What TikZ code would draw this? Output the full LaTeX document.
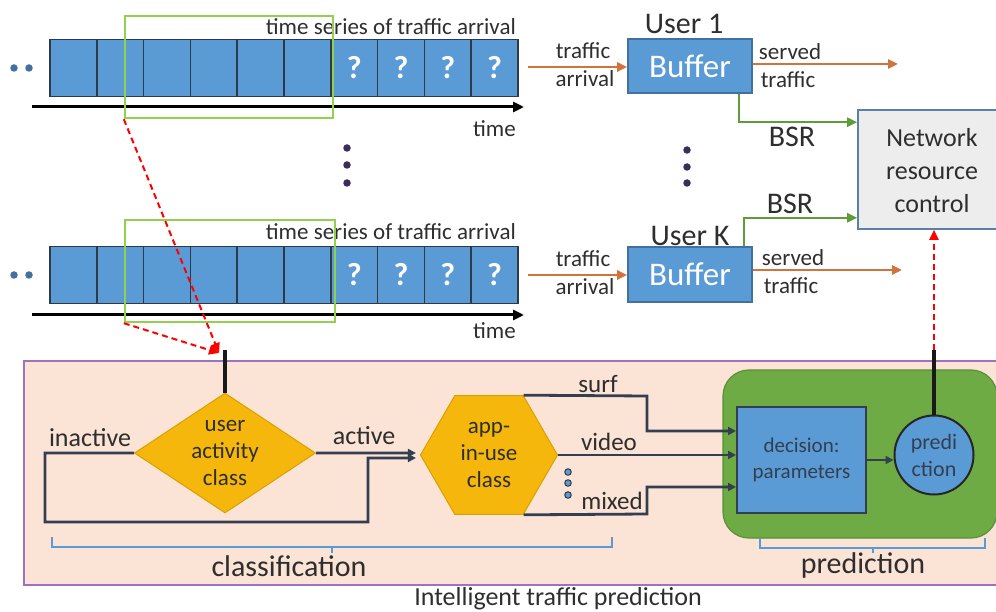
\documentclass[tikz,border=0pt]{standalone}
\usepackage{fontspec}
\setmainfont{Carlito}
\usetikzlibrary{arrows.meta,shapes.geometric,calc}
\definecolor{cellblue}{HTML}{5B9BD5}
\definecolor{celledge}{HTML}{2E3A48}
\definecolor{bufedge}{HTML}{41719C}
\definecolor{wingreen}{HTML}{92D050}
\definecolor{orng}{HTML}{D0743C}
\definecolor{bsrgreen}{HTML}{5E9C3A}
\definecolor{netfill}{HTML}{EDEDED}
\definecolor{netedge}{HTML}{5A7FA8}
\definecolor{peach}{HTML}{FBE3D6}
\definecolor{purp}{HTML}{9F72C0}
\definecolor{gold}{HTML}{F5B70B}
\definecolor{goldedge}{HTML}{D9A000}
\definecolor{slate}{HTML}{333F50}
\definecolor{pgreen}{HTML}{6EAB45}
\definecolor{pgreenedge}{HTML}{5B8F3A}
\definecolor{txt}{HTML}{2E2E2E}
\definecolor{dotpurple}{HTML}{3B2D5A}
\begin{document}
\begin{tikzpicture}[x=1pt,y=-1pt,
  cell/.style={draw=celledge,line width=1.6pt,fill=cellblue,minimum width=46.8pt,minimum height=57pt,inner sep=0pt,text=white,font=\fontsize{32}{36}\selectfont\bfseries},
  win/.style={draw=wingreen,line width=2.4pt,minimum width=208pt,minimum height=102pt,inner sep=0pt},
  lbl/.style={text=txt,inner sep=0pt,font=\fontsize{23}{27}\selectfont},
  biglbl/.style={text=txt,inner sep=0pt,font=\fontsize{30}{34}\selectfont},
  timeline/.style={line width=3pt,-{Triangle[length=11pt,width=10pt]}},
  bufbox/.style={draw=bufedge,line width=1.6pt,fill=cellblue,minimum width=124pt,minimum height=54pt,inner sep=0pt,text=white,font=\fontsize{33}{36}\selectfont},
  oarrow/.style={draw=orng,line width=2.5pt,-{Triangle[length=10pt,width=9pt]}},
  garrow/.style={draw=bsrgreen,line width=2.4pt,-{Triangle[length=10pt,width=9pt]}},
  rdash/.style={draw=red,line width=2pt,dash pattern=on 6pt off 4pt,-{Triangle[length=10pt,width=9pt]}},
  flow/.style={draw=slate,line width=2.8pt,-{Triangle[length=8pt,width=8pt]}},
  brace/.style={draw=cellblue,line width=1.4pt},
  ddot/.style={circle,fill=dotpurple,inner sep=0pt,minimum size=7.5pt},
  bdot/.style={circle,fill=bufedge,inner sep=0pt,minimum size=7.5pt},
  sdot/.style={circle,draw=celledge,line width=1pt,fill=cellblue,inner sep=0pt,minimum size=6.5pt},
]
\useasboundingbox (0,0) rectangle (996,612);

% ---------- top time series ----------
\foreach \i in {1,...,6} \node[cell] (a\i) at ({50+(\i-0.5)*46.8},68) {};
\foreach \i in {7,...,10} \node[cell] (a\i) at ({50+(\i-0.5)*46.8},68) {?};
\coordinate (t1s) at (32,107); \coordinate (t1e) at (524,107);
\draw[timeline] (t1s) -- (t1e);
\node[lbl,anchor=east] (ts1) at (516,27) {time series of traffic arrival};
\node[lbl,anchor=east] (tm1) at (516,129) {time};
\node[win] (win1) at (229,67) {};
\node[bdot] (d1a) at (14,68) {}; \node[bdot] (d1b) at (29,68) {};

% ---------- bottom time series ----------
\foreach \i in {1,...,6} \node[cell] (b\i) at ({50+(\i-0.5)*46.8},275) {};
\foreach \i in {7,...,10} \node[cell] (b\i) at ({50+(\i-0.5)*46.8},275) {?};
\coordinate (t2s) at (32,315); \coordinate (t2e) at (524,315);
\draw[timeline] (t2s) -- (t2e);
\node[lbl,anchor=east] (ts2) at (516,232) {time series of traffic arrival};
\node[lbl,anchor=east] (tm2) at (516,331) {time};
\node[win,minimum width=210pt] (win2) at (230,271) {};
\node[bdot] (d2a) at (14,275) {}; \node[bdot] (d2b) at (29,275) {};

% vertical dots
\node[ddot] (v1) at (347,148) {}; \node[ddot] (v2) at (347,165) {}; \node[ddot] (v3) at (347,183) {};
\node[ddot] (w1) at (687,150) {}; \node[ddot] (w2) at (687,167) {}; \node[ddot] (w3) at (687,183) {};

% ---------- buffers ----------
\node[bufbox] (buf1) at (690,66) {Buffer};
\node[bufbox,minimum height=55pt] (bufK) at (690,274.5) {Buffer};
\node[lbl,font=\fontsize{30}{34}\selectfont] (u1) at (684,24) {User 1};
\node[lbl,font=\fontsize{30}{34}\selectfont] (uK) at (690,236) {User K};

\coordinate (oa1) at (528,67);
\draw[oarrow] (oa1) -- (buf1.west |- oa1);
\node[lbl] (ta1) at (583,51) {traffic};
\node[lbl] (ar1) at (585,79) {arrival};
\coordinate (oaK) at (528,275);
\draw[oarrow] (oaK) -- (bufK.west |- oaK);
\node[lbl] (taK) at (583,259) {traffic};
\node[lbl] (arK) at (585,287) {arrival};

\coordinate (so1) at (898,64);
\draw[oarrow] (buf1.east |- so1) -- (so1);
\node[lbl] (se1) at (790,52) {served};
\node[lbl] (st1) at (788,80) {traffic};
\coordinate (soK) at (902,270);
\draw[oarrow] (bufK.east |- soK) -- (soK);
\node[lbl] (seK) at (793,258) {served};
\node[lbl] (stK) at (791,286) {traffic};

% ---------- network resource control ----------
\node[draw=netedge,line width=1.6pt,fill=netfill,minimum width=142pt,minimum height=119pt,inner sep=0pt] (net) at (929,169.5) {};
\node[text=txt,align=center,font=\fontsize{26}{33}\selectfont] (nettxt) at (932,171) {Network\\resource\\control};

\draw[garrow] ($(buf1.south east)+(-14,0)$) |- ($(net.north west)+(0,13)$);
\draw[garrow] ($(bufK.north east)+(-9,0)$) |- ($(net.south west)+(0,-12)$);
\node[lbl,font=\fontsize{30}{34}\selectfont] (bsr1) at (792,137) {BSR};
\node[lbl,font=\fontsize{30}{34}\selectfont] (bsr2) at (790,204) {BSR};

% ---------- intelligent traffic prediction area ----------
\node[draw=purp,line width=1.6pt,fill=peach,minimum width=980pt,minimum height=224pt,inner sep=0pt,anchor=north west] (itp) at (23,360) {};
\node[text=txt,inner sep=0pt,font=\fontsize{26}{30}\selectfont] (itpl) at (558,599) {Intelligent traffic prediction};

\node[draw=pgreenedge,line width=1.2pt,fill=pgreen,rounded corners=26pt,minimum width=274pt,minimum height=168pt,inner sep=0pt] (pbox) at (860,454) {};

% diamond
\node[diamond,draw=goldedge,line width=1pt,fill=gold,minimum width=181pt,minimum height=120pt,inner sep=0pt,aspect=1.5,
  text=txt,align=center,font=\fontsize{23}{27}\selectfont] (uac) at (225,453) {user\\activity\\class};
% hexagon
\node[regular polygon,regular polygon sides=6,draw=goldedge,line width=1pt,fill=gold,minimum size=137pt,inner sep=0pt,
  text=txt,align=center,font=\fontsize{23}{27}\selectfont] (hex) at (489,455) {app-\\in-use\\class};

% decision & prediction
\node[draw=slate,line width=2pt,fill=cellblue,minimum width=129pt,minimum height=106pt,inner sep=0pt,
  text=slate,align=center,font=\fontsize{21}{26}\selectfont] (dec) at (801.5,460) {decision:\\parameters};
\node[circle,draw=black!85,line width=2pt,fill=cellblue,minimum size=79pt,inner sep=0pt,
  text=slate,align=center,font=\fontsize{22}{27}\selectfont] (pc) at (934,455) {predi\\ction};
\draw[flow] (dec.east) -- (dec.east -| pc.west);

% black feed lines
\coordinate (top1) at (225,350);
\draw[line width=4.5pt,black!90] (uac.north) -- (top1);
\coordinate (top2) at (934,350);
\draw[line width=4.5pt,black!90] (pc.north) -- (top2);

% red dashed arrows
\coordinate (redend) at (219,353);
\draw[rdash] (win1.south west) -- (redend);
\draw[rdash] (win2.south west) -- (redend);
\draw[rdash] (top2) -- (top2 |- net.south);

% flow: active / inactive
\draw[flow] (uac.east) -- ($(hex.west)+(-4,-2)$);
\node[text=txt,inner sep=0pt,font=\fontsize{26}{30}\selectfont] (actl) at (364,436) {active};
\coordinate (l1) at (45,522); \coordinate (l2) at (368,522); \coordinate (l3) at (368,458);
\draw[flow] (uac.west) -| (l1) -- (l2) -- (l3) -- ($(hex.west)+(-4,3)$);
\node[text=txt,inner sep=0pt,font=\fontsize{26}{30}\selectfont] (inactl) at (90,438) {inactive};

% flow: app classes to decision
\coordinate (s1) at (647,396); \coordinate (s2) at (647,431);
\draw[flow] (hex.60) -- (s1) -- (s2) -- (dec.west |- s2);
\draw[flow] (hex.east) -- (dec.west |- hex.east);
\coordinate (m1) at (647,514); \coordinate (m2) at (647,487);
\draw[flow] (hex.-60) -- (m1) -- (m2) -- (dec.west |- m2);
\node[text=txt,inner sep=0pt,font=\fontsize{25}{29}\selectfont] (surfl) at (598,384) {surf};
\node[text=txt,inner sep=0pt,font=\fontsize{25}{29}\selectfont] (videol) at (609,442) {video};
\node[text=txt,inner sep=0pt,font=\fontsize{25}{29}\selectfont] (mixedl) at (612,501) {mixed};
\node[sdot] (sd1) at (568,472) {}; \node[sdot] (sd2) at (568,483) {}; \node[sdot] (sd3) at (568,495) {};

% braces
\draw[brace] (52,537) -- (52,547) -- (612,547) -- (612,537);
\draw[brace] (332,547) -- (332,553);
\node[biglbl] (clsl) at (289,566) {classification};
\draw[brace] (760,538) -- (760,548) -- (985,548) -- (985,538);
\draw[brace] (873,548) -- (873,553);
\node[biglbl] (predl) at (863,565) {prediction};
\end{tikzpicture}
\end{document}
